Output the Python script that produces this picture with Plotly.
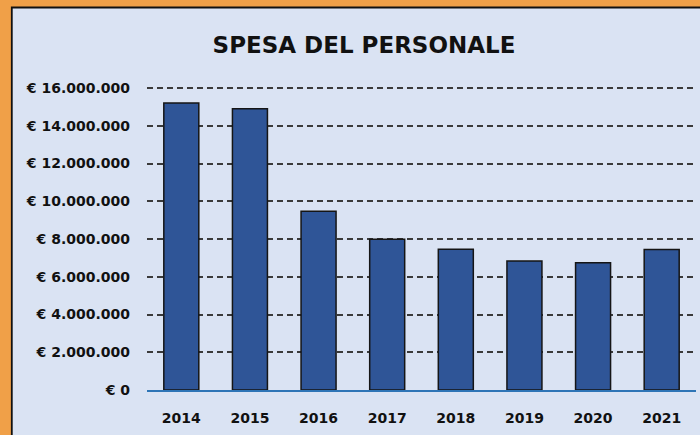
import plotly.graph_objects as go

years = ["2014", "2015", "2016", "2017", "2018", "2019", "2020", "2021"]
spesa = [15200000, 14900000, 9470000, 7990000, 7460000, 6830000, 6740000, 7440000]
tick_vals = [0, 2000000, 4000000, 6000000, 8000000, 10000000, 12000000, 14000000, 16000000]
tick_text = ["€ 0", "€ 2.000.000", "€ 4.000.000", "€ 6.000.000", "€ 8.000.000",
             "€ 10.000.000", "€ 12.000.000", "€ 14.000.000", "€ 16.000.000"]

BG = "#DAE3F3"
ORANGE = "#F0A048"
FONT = "DejaVu Sans"
PH = 305  # plot height in px

fig = go.Figure(go.Bar(
    x=years, y=spesa,
    marker=dict(color="#2F5597", line=dict(color="#151515", width=1.5)),
    width=0.51,
))

fig.update_layout(
    width=700, height=435,
    margin=dict(l=147, r=4, t=85, b=45),
    paper_bgcolor=ORANGE,
    plot_bgcolor="rgba(0,0,0,0)",
    showlegend=False,
    title=dict(text="<b>SPESA DEL PERSONALE</b>", x=364/700, xanchor="center",
               y=1 - 44.5/435, yanchor="middle",
               font=dict(family=FONT, size=23, color="#111111")),
    shapes=[dict(type="rect", xref="paper", yref="paper",
                 x0=(11.8-147)/549, x1=(705-147)/549,
                 y0=(390-445)/PH, y1=(390-7.5)/PH,
                 fillcolor=BG, line=dict(color="#111111", width=1.8),
                 layer="below")],
)

fig.update_xaxes(
    showgrid=False, showline=True, linecolor="#2E75B6", linewidth=1.5,
    ticks="", ticklabelstandoff=14,
    tickfont=dict(family=FONT, size=14, color="#111111", weight="bold"),
)
fig.update_yaxes(
    range=[0, 16160000], tickvals=tick_vals, ticktext=tick_text,
    showgrid=True, gridcolor="#3a3a3a", gridwidth=1.5, griddash="6px,4px",
    zeroline=False, showline=False, ticks="", ticklabelstandoff=16,
    tickfont=dict(family=FONT, size=14, color="#111111", weight="bold"),
)

fig.write_html("out.html", config={"displayModeBar": False},
               post_script="document.body.style.margin='0px';")
